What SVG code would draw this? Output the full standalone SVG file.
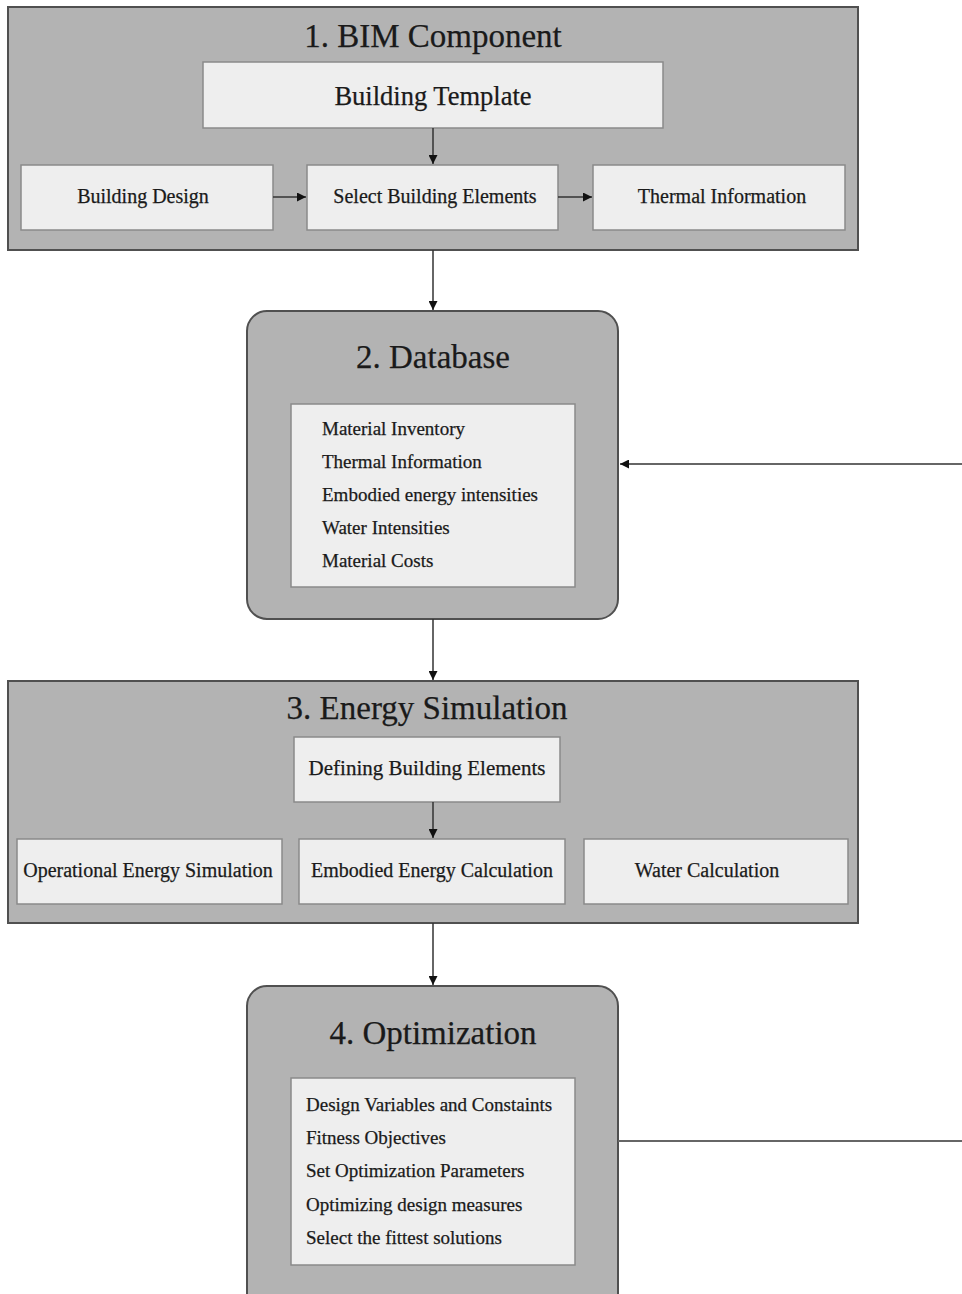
<svg xmlns="http://www.w3.org/2000/svg" width="962" height="1294" viewBox="0 0 962 1294">
<style>
.sec{fill:#b3b3b3;stroke:#505050;stroke-width:2}
.box{fill:#eeeeee;stroke:#8a8a8a;stroke-width:1.5}
.t{font-family:"Liberation Serif","Times New Roman",serif;fill:#1a1a1a;stroke:#1a1a1a;stroke-width:0.25}
.title{font-size:33px;text-anchor:middle}
.lbl{font-size:20px;text-anchor:middle}
.big{font-size:26.5px;text-anchor:middle}
.item{font-size:19px}
.c{stroke:#333;stroke-width:1.5;fill:none}
.cg{stroke:#666;stroke-width:2;fill:none}
</style>
<defs>
<marker id="ah" viewBox="0 0 10 10" refX="10" refY="5" markerWidth="9" markerHeight="9" markerUnits="userSpaceOnUse" orient="auto">
<path d="M0,0 L10,5 L0,10 z" fill="#111"/>
</marker>
</defs>
<rect width="962" height="1294" fill="#ffffff"/>

<g id="sec1">
<rect class="sec" x="8" y="7" width="850" height="243"/>
<text class="t title" x="433" y="47">1. BIM Component</text>
</g>
<g id="template">
<rect class="box" x="203" y="62" width="460" height="66"/>
<text class="t big" x="433" y="105">Building Template</text>
</g>
<g id="design">
<rect class="box" x="21" y="165" width="252" height="65"/>
<text class="t lbl" x="143" y="203">Building Design</text>
</g>
<g id="select">
<rect class="box" x="307" y="165" width="251" height="65"/>
<text class="t lbl" x="435" y="203">Select Building Elements</text>
</g>
<g id="thermal">
<rect class="box" x="593" y="165" width="252" height="65"/>
<text class="t lbl" x="722" y="203">Thermal Information</text>
</g>

<g id="database">
<rect class="sec" x="247" y="311" width="371" height="308" rx="20"/>
<text class="t title" x="433" y="368">2. Database</text>
<rect class="box" x="291" y="404" width="284" height="183"/>
<text class="t item" x="322" y="435">Material Inventory</text>
<text class="t item" x="322" y="468">Thermal Information</text>
<text class="t item" x="322" y="501">Embodied energy intensities</text>
<text class="t item" x="322" y="534">Water Intensities</text>
<text class="t item" x="322" y="567">Material Costs</text>
</g>

<g id="sec3">
<rect class="sec" x="8" y="681" width="850" height="242"/>
<text class="t title" x="427" y="719">3. Energy Simulation</text>
</g>
<g id="defining">
<rect class="box" x="294" y="737" width="266" height="65"/>
<text class="t lbl" x="427" y="775" style="font-size:21px">Defining Building Elements</text>
</g>
<g id="operational">
<rect class="box" x="17" y="839" width="265" height="65"/>
<text class="t lbl" x="148" y="877">Operational Energy Simulation</text>
</g>
<g id="embodied">
<rect class="box" x="299" y="839" width="266" height="65"/>
<text class="t lbl" x="432" y="877">Embodied Energy Calculation</text>
</g>
<g id="water">
<rect class="box" x="584" y="839" width="264" height="65"/>
<text class="t lbl" x="707" y="877">Water Calculation</text>
</g>

<g id="optimization">
<rect class="sec" x="247" y="986" width="371" height="330" rx="20"/>
<text class="t title" x="433" y="1044">4. Optimization</text>
<rect class="box" x="291" y="1078" width="284" height="187"/>
<text class="t item" x="306" y="1111">Design Variables and Constaints</text>
<text class="t item" x="306" y="1144">Fitness Objectives</text>
<text class="t item" x="306" y="1177">Set Optimization Parameters</text>
<text class="t item" x="306" y="1211">Optimizing design measures</text>
<text class="t item" x="306" y="1244">Select the fittest solutions</text>
</g>

<g id="connectors">
<line class="c" x1="433" y1="128" x2="433" y2="164" marker-end="url(#ah)"/>
<line class="c" x1="273" y1="197" x2="306" y2="197" marker-end="url(#ah)"/>
<line class="c" x1="558" y1="197" x2="592" y2="197" marker-end="url(#ah)"/>
<line class="c" x1="433" y1="250" x2="433" y2="310" marker-end="url(#ah)"/>
<line class="cg" x1="962" y1="464" x2="620" y2="464" marker-end="url(#ah)"/>
<line class="c" x1="433" y1="619" x2="433" y2="680" marker-end="url(#ah)"/>
<line class="c" x1="433" y1="802" x2="433" y2="838" marker-end="url(#ah)"/>
<line class="c" x1="433" y1="923" x2="433" y2="985" marker-end="url(#ah)"/>
<line class="cg" x1="618" y1="1141" x2="962" y2="1141"/>
</g>
</svg>
